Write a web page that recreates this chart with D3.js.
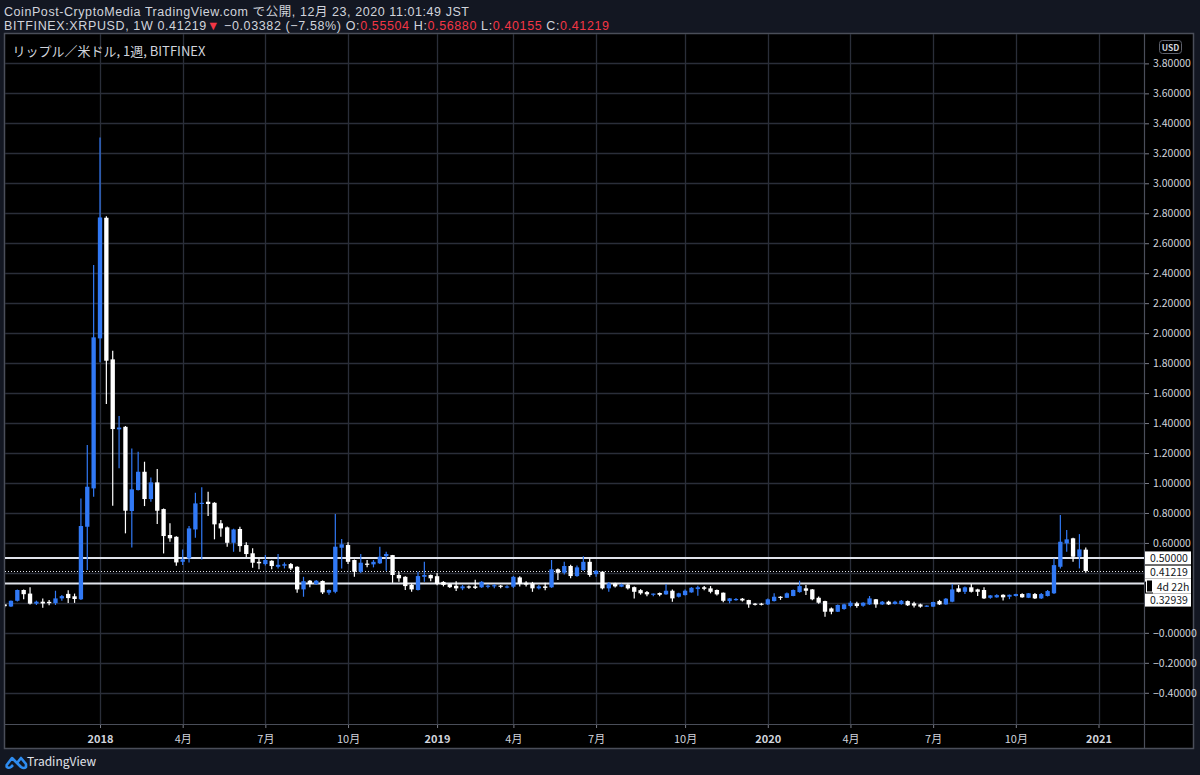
<!DOCTYPE html>
<html><head><meta charset="utf-8">
<script src="https://cdn.jsdelivr.net/npm/d3@7"></script>
<style>
html,body{margin:0;padding:0;background:#131722;}
svg{display:block;}
text{font-family:"Noto Sans CJK JP","Noto Sans",sans-serif;}
</style></head>
<body>
<svg id="c" width="1200" height="775"></svg>
<script>
// ---- data (weekly candles, BITFINEX:XRPUSD) ----
const firstWeek = "2017-09-18";
const lastWeek = "2020-12-21";
const opens = [0.190,0.176,0.214,0.286,0.262,0.195,0.208,0.207,0.198,0.230,0.260,0.244,0.224,0.708,0.964,1.965,2.770,1.825,1.358,1.375,
0.813,0.953,1.075,0.893,1.004,0.826,0.653,0.641,0.474,0.497,0.690,0.860,0.875,0.868,0.731,0.704,0.601,0.693,0.586,0.531,
0.474,0.459,0.481,0.441,0.448,0.459,0.441,0.290,0.348,0.326,0.346,0.268,0.274,0.568,0.586,0.486,0.408,0.462,0.457,0.464,
0.512,0.519,0.386,0.374,0.320,0.286,0.374,0.386,0.378,0.340,0.325,0.314,0.297,0.310,0.310,0.304,0.308,0.310,0.315,0.305,
0.308,0.370,0.334,0.330,0.297,0.310,0.304,0.424,0.401,0.446,0.379,0.419,0.474,0.392,0.408,0.297,0.330,0.308,0.322,0.305,
0.285,0.272,0.257,0.266,0.257,0.281,0.241,0.252,0.270,0.292,0.304,0.297,0.286,0.268,0.212,0.222,0.228,0.219,0.195,0.195,
0.190,0.212,0.241,0.234,0.246,0.272,0.297,0.290,0.234,0.212,0.163,0.141,0.159,0.179,0.197,0.181,0.190,0.224,0.190,0.208,
0.193,0.192,0.212,0.197,0.190,0.175,0.175,0.212,0.190,0.208,0.297,0.274,0.304,0.290,0.286,0.234,0.237,0.254,0.241,0.246,
0.259,0.234,0.259,0.230,0.246,0.264,0.441,0.597,0.631,0.508,0.55504];
const highs = [0.192,0.216,0.290,0.290,0.304,0.215,0.230,0.220,0.281,0.253,0.285,0.262,0.897,1.253,2.454,3.306,2.780,1.883,1.447,1.380,
1.231,1.209,1.142,1.037,1.093,0.830,0.731,0.645,0.557,0.713,0.935,0.971,0.942,0.872,0.753,0.710,0.695,0.708,0.604,0.564,
0.497,0.519,0.485,0.526,0.470,0.466,0.445,0.374,0.352,0.352,0.350,0.290,0.793,0.626,0.604,0.490,0.526,0.486,0.486,0.575,
0.541,0.520,0.408,0.378,0.330,0.408,0.474,0.390,0.400,0.345,0.330,0.345,0.320,0.316,0.355,0.345,0.325,0.326,0.320,0.318,
0.380,0.378,0.345,0.340,0.320,0.335,0.486,0.430,0.474,0.455,0.450,0.512,0.497,0.420,0.410,0.340,0.335,0.328,0.330,0.310,
0.292,0.280,0.262,0.270,0.326,0.290,0.268,0.290,0.305,0.314,0.312,0.312,0.290,0.270,0.232,0.232,0.232,0.221,0.200,0.200,
0.230,0.264,0.245,0.270,0.290,0.348,0.319,0.292,0.242,0.215,0.170,0.190,0.195,0.212,0.208,0.205,0.246,0.226,0.212,0.214,
0.214,0.220,0.216,0.208,0.195,0.184,0.208,0.220,0.232,0.326,0.319,0.310,0.326,0.295,0.304,0.253,0.258,0.258,0.256,0.261,
0.264,0.266,0.266,0.266,0.286,0.497,0.786,0.686,0.634,0.659,0.56880];
const lows = [0.170,0.172,0.210,0.224,0.190,0.186,0.168,0.185,0.186,0.215,0.200,0.200,0.220,0.419,0.908,1.805,1.527,0.848,1.098,0.664,
0.570,0.950,0.846,0.875,0.726,0.530,0.608,0.448,0.452,0.470,0.635,0.490,0.779,0.624,0.641,0.575,0.541,0.541,0.504,0.434,
0.424,0.450,0.424,0.430,0.430,0.420,0.268,0.241,0.304,0.320,0.259,0.255,0.264,0.430,0.459,0.374,0.400,0.437,0.437,0.460,
0.414,0.334,0.341,0.286,0.274,0.283,0.341,0.345,0.317,0.310,0.300,0.280,0.285,0.295,0.292,0.300,0.298,0.298,0.298,0.298,
0.300,0.310,0.310,0.274,0.290,0.285,0.300,0.352,0.390,0.364,0.375,0.415,0.375,0.375,0.290,0.274,0.303,0.305,0.290,0.230,
0.255,0.245,0.245,0.245,0.254,0.208,0.236,0.250,0.268,0.248,0.285,0.264,0.250,0.205,0.197,0.215,0.210,0.167,0.183,0.183,
0.186,0.210,0.220,0.232,0.244,0.268,0.252,0.218,0.195,0.107,0.125,0.140,0.155,0.170,0.167,0.174,0.186,0.167,0.186,0.186,
0.190,0.188,0.180,0.170,0.168,0.172,0.173,0.186,0.188,0.205,0.270,0.259,0.270,0.246,0.226,0.228,0.235,0.216,0.225,0.243,
0.234,0.232,0.226,0.226,0.243,0.260,0.430,0.541,0.474,0.430,0.40155];
const closes = [0.178,0.214,0.286,0.258,0.195,0.208,0.196,0.198,0.230,0.245,0.232,0.226,0.713,0.975,1.972,2.772,1.816,1.360,1.370,0.815,
0.958,1.075,0.893,1.004,0.815,0.646,0.631,0.470,0.490,0.697,0.864,0.868,0.860,0.724,0.697,0.601,0.690,0.579,0.526,0.468,
0.464,0.486,0.446,0.454,0.458,0.430,0.290,0.345,0.326,0.348,0.270,0.286,0.575,0.591,0.474,0.408,0.468,0.456,0.474,0.508,
0.526,0.386,0.364,0.312,0.290,0.379,0.386,0.364,0.326,0.320,0.305,0.297,0.310,0.303,0.300,0.341,0.315,0.318,0.308,0.310,
0.374,0.326,0.322,0.297,0.310,0.300,0.424,0.401,0.446,0.379,0.437,0.474,0.386,0.414,0.297,0.330,0.310,0.322,0.297,0.274,
0.264,0.257,0.262,0.254,0.281,0.230,0.264,0.281,0.301,0.304,0.294,0.274,0.257,0.214,0.230,0.226,0.216,0.190,0.188,0.189,
0.224,0.241,0.234,0.264,0.286,0.312,0.281,0.224,0.201,0.141,0.141,0.186,0.190,0.201,0.179,0.201,0.230,0.190,0.208,0.190,
0.208,0.214,0.184,0.182,0.175,0.182,0.206,0.190,0.228,0.290,0.274,0.304,0.274,0.274,0.230,0.250,0.252,0.237,0.254,0.259,
0.237,0.264,0.230,0.259,0.279,0.452,0.608,0.624,0.508,0.557,0.41219];

const priceTicks = [3.8,3.6,3.4,3.2,3.0,2.8,2.6,2.4,2.2,2.0,1.8,1.6,1.4,1.2,1.0,0.8,0.6,0.4,0.2,0.0,-0.2,-0.4];
const hiddenPriceLabels = [0.4,0.2];
const timeTickDates = ["2018-01-01","2018-04-02","2018-07-02","2018-10-01","2019-01-07","2019-04-01","2019-07-01","2019-10-07","2020-01-06","2020-04-06","2020-07-06","2020-10-05","2021-01-04"];
const timeTickLabels = ["2018","4月","7月","10月","2019","4月","7月","10月","2020","4月","7月","10月","2021"];
const hLines = [0.5, 0.32939];
const lastPrice = 0.41219;
const countdown = "4d 22h";
const headerLine1 = "CoinPost-CryptoMedia TradingView.com で公開, 12月 23, 2020 11:01:49 JST";
const legendText = "リップル／米ドル, 1週, BITFINEX";

// ---- layout ----
const W = 1200, H = 775;
const frame = {x0:4, y0:33, x1:1193, y1:748};
const plot = {x0:5, x1:1144, y0:34, y1:724};
const UP = "#3179f5", DOWN = "#ffffff", GRID = "#2a2e39", TXT = "#d1d4dc", RED = "#f23645";
const HEADER_FONT = "'Liberation Sans','Noto Sans CJK JP',sans-serif";

const parse = d3.utcParse("%Y-%m-%d");
const weeks = d3.utcMonday.range(parse(firstWeek), d3.utcDay.offset(parse(lastWeek), 1));
const candles = weeks.map((d,i)=>({d, o:opens[i], h:highs[i], l:lows[i], c:closes[i]}));

const x = d3.scaleUtc().domain([parse("2018-01-01"), parse("2021-01-04")]).range([100, 1098.5]);
const y = d3.scaleLinear().domain([-0.4, 3.8]).range([692.8, 63.4]);
const weekPx = x(parse("2018-01-08")) - x(parse("2018-01-01"));
const bodyW = weekPx * 0.68;

const svg = d3.select("#c");
svg.append("rect").attr("width",W).attr("height",H).attr("fill","#131722");
svg.append("rect").attr("x",frame.x0+0.5).attr("y",frame.y0+0.5).attr("width",frame.x1-frame.x0).attr("height",frame.y1-frame.y0)
  .attr("fill","#000").attr("stroke","#4a4e59").attr("stroke-width",1.5);

const defs = svg.append("defs");
defs.append("clipPath").attr("id","clip").append("rect")
  .attr("x",plot.x0).attr("y",plot.y0).attr("width",plot.x1-plot.x0).attr("height",plot.y1-plot.y0);

// grid
const grid = svg.append("g").attr("clip-path","url(#clip)");
grid.selectAll("line.h").data(priceTicks).join("line").attr("class","h")
  .attr("x1",plot.x0).attr("x2",plot.x1).attr("y1",d=>Math.round(y(d))+0.5).attr("y2",d=>Math.round(y(d))+0.5)
  .attr("stroke",GRID).attr("stroke-width",1.3);
grid.selectAll("line.v").data(timeTickDates).join("line").attr("class","v")
  .attr("y1",plot.y0).attr("y2",plot.y1).attr("x1",d=>Math.round(x(parse(d)))+0.5).attr("x2",d=>Math.round(x(parse(d)))+0.5)
  .attr("stroke",GRID).attr("stroke-width",1.3);

// axes separators
svg.append("line").attr("x1",plot.x1+0.5).attr("x2",plot.x1+0.5).attr("y1",frame.y0).attr("y2",frame.y1).attr("stroke","#4a4e59").attr("stroke-width",1.2);
svg.append("line").attr("x1",frame.x0).attr("x2",frame.x1).attr("y1",plot.y1+0.5).attr("y2",plot.y1+0.5).attr("stroke","#4a4e59").attr("stroke-width",1.2);

// horizontal price lines
const g = svg.append("g").attr("clip-path","url(#clip)");
g.selectAll("line.pl").data(hLines).join("line").attr("class","pl")
  .attr("x1",plot.x0).attr("x2",plot.x1).attr("y1",d=>y(d)).attr("y2",d=>y(d))
  .attr("stroke","#e0e3eb").attr("stroke-width",2);
g.append("line").attr("x1",plot.x0).attr("x2",plot.x1).attr("y1",Math.round(y(lastPrice))+0.5).attr("y2",Math.round(y(lastPrice))+0.5)
  .attr("stroke","#e0e3eb").attr("stroke-width",1).attr("stroke-dasharray","1,2");

// candles
const cg = g.append("g");
cg.selectAll("line.w").data(candles).join("line").attr("class","w")
  .attr("x1",d=>x(d.d)).attr("x2",d=>x(d.d)).attr("y1",d=>y(d.h)).attr("y2",d=>y(d.l))
  .attr("stroke",d=>d.c>=d.o?UP:DOWN).attr("stroke-width",1.2);
cg.selectAll("rect.b").data(candles).join("rect").attr("class","b")
  .attr("x",d=>x(d.d)-bodyW/2).attr("width",bodyW)
  .attr("y",d=>y(Math.max(d.o,d.c))).attr("height",d=>Math.max(1.2, Math.abs(y(d.o)-y(d.c))))
  .attr("fill",d=>d.c>=d.o?UP:DOWN);

// price axis
const yAxis = d3.axisRight(y).tickValues(priceTicks.filter(v=>!hiddenPriceLabels.includes(v)))
  .tickSize(4).tickPadding(4)
  .tickFormat(v=> (v<=0 ? "−" : "") + Math.abs(v).toFixed(5));
const ya = svg.append("g").attr("transform",`translate(${plot.x1+1},0)`).call(yAxis);
ya.select(".domain").remove();
ya.selectAll("line").attr("stroke","#787b86");
ya.selectAll("text").attr("fill",TXT).attr("font-size",10.5).style("font-family","'Noto Sans CJK JP',sans-serif");

// USD badge
svg.append("rect").attr("x",1159.5).attr("y",40.5).attr("width",22).attr("height",13).attr("rx",3)
  .attr("fill","#000").attr("stroke","#5d606b");
svg.append("text").attr("x",1170.5).attr("y",50.5).attr("text-anchor","middle").attr("font-size",8.5).attr("font-weight","bold")
  .attr("fill",TXT).text("USD");

// price labels boxes
const boxX = plot.x1+1, boxW = 46;
const lab = svg.append("g");
function priceBox(yc, txt, xOff){
  const xo = xOff||0;
  lab.append("rect").attr("x",boxX+xo).attr("y",yc-6.5).attr("width",boxW-xo).attr("height",13).attr("fill","#ffffff");
  lab.append("text").attr("x",boxX+xo+(boxW-xo)/2+1).attr("y",yc+4).attr("text-anchor","middle").attr("font-size",10.5)
    .attr("fill","#131722").text(txt);
}
priceBox(y(0.5), d3.format(".5f")(0.5));
priceBox(y(lastPrice)+1, d3.format(".5f")(lastPrice));
lab.append("rect").attr("x",boxX).attr("y",y(lastPrice)+7.5).attr("width",boxW).attr("height",3).attr("fill","#fff");
priceBox(y(lastPrice)+16, countdown, 8);
lab.append("rect").attr("x",boxX+1.5).attr("y",y(hLines[1])-3.5).attr("width",6).attr("height",12).attr("fill","#000").attr("stroke","#fff");
priceBox(y(lastPrice)+29, d3.format(".5f")(hLines[1]));

// time axis
const xAxis = d3.axisBottom(x).tickValues(timeTickDates.map(parse)).tickSize(3).tickPadding(7)
  .tickFormat((d,i)=>timeTickLabels[i]);
const xa = svg.append("g").attr("transform",`translate(0,${plot.y1+1})`).call(xAxis);
xa.select(".domain").remove();
xa.selectAll("line").attr("stroke","#787b86");
xa.selectAll("text").attr("fill",TXT).attr("font-size",11)
  .attr("font-weight",(d,i)=>/^\d{4}$/.test(timeTickLabels[i])?"bold":"normal")
  .style("font-family","'Noto Sans CJK JP',sans-serif");

// header
svg.append("text").attr("x",4).attr("y",16).attr("font-size",12.5).attr("fill",TXT).style("font-family",HEADER_FONT)
  .attr("textLength",465).attr("lengthAdjust","spacing").text(headerLine1);
const l2 = svg.append("text").attr("x",4).attr("y",30).attr("font-size",12.5).attr("fill",TXT).style("font-family",HEADER_FONT)
  .attr("textLength",605).attr("lengthAdjust","spacing");
const parts = [["BITFINEX:XRPUSD, 1W 0.41219",TXT],["▼",RED],[" −0.03382 (−7.58%) O:",TXT],["0.55504",RED],[" H:",TXT],["0.56880",RED],[" L:",TXT],["0.40155",RED],[" C:",TXT],["0.41219",RED]];
parts.forEach(p=>l2.append("tspan").attr("fill",p[1]).text(p[0]));

// legend
svg.append("text").attr("x",12.5).attr("y",56).attr("font-size",13).attr("fill",TXT).text(legendText);

// footer
const logo = svg.append("g").attr("transform","translate(5,752)");
logo.append("path").attr("d","M1,14 L7,6 L12,11 L16,6 L21,12 L21,15 Q19,17 16,15 L12,11 M1,14 Q3,17 6,15 L8,13")
  .attr("fill","none").attr("stroke","#2e8cf0").attr("stroke-width",2.6).attr("stroke-linejoin","round");
svg.append("text").attr("x",27).attr("y",766).attr("font-size",12).attr("fill","#e0e3eb").text("TradingView");
</script>
</body></html>
